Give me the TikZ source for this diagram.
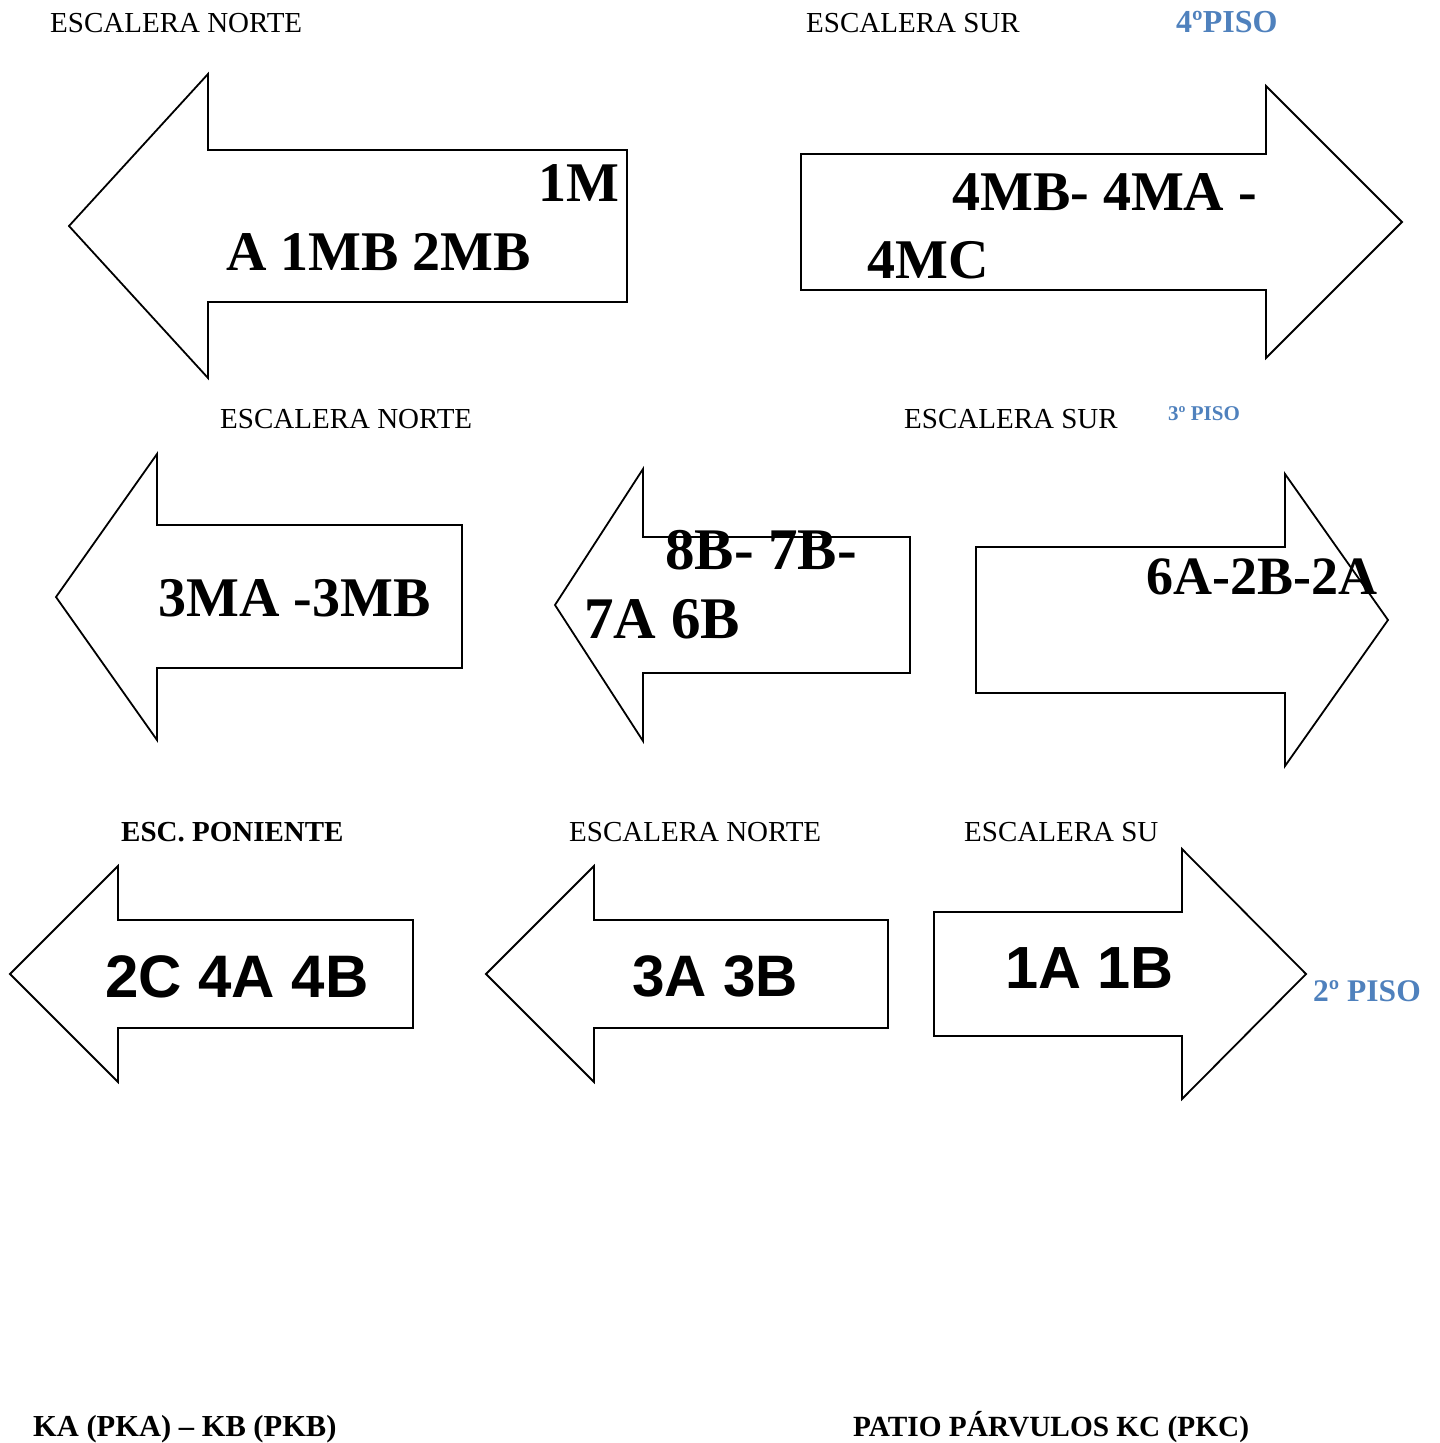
\documentclass[tikz,border=0pt]{standalone}
\usepackage{fontspec}
\setmainfont{Liberation Serif}
\newfontfamily\arialfam{Liberation Sans}
\definecolor{pisoblue}{HTML}{4F81BD}
\tikzset{
  arrowshape/.style={draw=black, line width=1.8pt, fill=white, line join=miter},
  lbl/.style={inner sep=0pt, anchor=base west, font=\fontsize{29}{29}\selectfont},
  lblb/.style={lbl, font=\fontsize{29}{29}\selectfont\bfseries},
  piso/.style={inner sep=0pt, anchor=base west, text=pisoblue},
  big/.style={inner sep=0pt, anchor=base west, font=\fontsize{56}{56}\selectfont\bfseries},
  bigsans/.style={inner sep=0pt, anchor=base west, font=\arialfam\fontsize{60}{60}\selectfont\bfseries},
}
\begin{document}
\begin{tikzpicture}[x=1pt,y=-1pt]
\useasboundingbox[fill=white] (0,0) rectangle (1440,1443);

% ---- arrows ----
% row 1
\draw[arrowshape] (69,226) -- (208,74) -- (208,150) -- (627,150) -- (627,302) -- (208,302) -- (208,378) -- cycle;
\draw[arrowshape] (1402,222) -- (1266,86) -- (1266,154) -- (801,154) -- (801,290) -- (1266,290) -- (1266,358) -- cycle;
% row 2
\draw[arrowshape] (56,597) -- (157,454) -- (157,525) -- (462,525) -- (462,668) -- (157,668) -- (157,740) -- cycle;
\draw[arrowshape] (555,605) -- (643,469) -- (643,537) -- (910,537) -- (910,673) -- (643,673) -- (643,741) -- cycle;
\draw[arrowshape] (1388,620) -- (1285,474) -- (1285,547) -- (976,547) -- (976,693) -- (1285,693) -- (1285,766) -- cycle;
% row 3
\draw[arrowshape] (10,974) -- (118,866) -- (118,920) -- (413,920) -- (413,1028) -- (118,1028) -- (118,1082) -- cycle;
\draw[arrowshape] (486,974) -- (594,866) -- (594,920) -- (888,920) -- (888,1028) -- (594,1028) -- (594,1082) -- cycle;
\draw[arrowshape] (1306,974) -- (1182,849) -- (1182,912) -- (934,912) -- (934,1036) -- (1182,1036) -- (1182,1099) -- cycle;

% ---- labels ----
\node[lbl] (l1) at (50,32) {ESCALERA NORTE};
\node[lbl] (l2) at (806,32) {ESCALERA SUR};
\node[piso, font=\fontsize{32}{32}\selectfont\bfseries] (p4) at (1176,32) {4ºPISO};

\node[lbl] (l3) at (220,428) {ESCALERA NORTE};
\node[lbl] (l4) at (904,428) {ESCALERA SUR};
\node[piso, font=\fontsize{21}{21}\selectfont\bfseries] (p3) at (1168,420) {3º PISO};

\node[lblb] (l5) at (121,841) {ESC. PONIENTE};
\node[lbl] (l6) at (569,841) {ESCALERA NORTE};
\node[lbl] (l7) at (964,841) {ESCALERA SU};
\node[piso, font=\fontsize{31.5}{31.5}\selectfont\bfseries] (p2) at (1313,1001) {2º PISO};

\node[lblb, font=\fontsize{30.5}{30.5}\selectfont\bfseries] (b1) at (33,1436) {KA (PKA) – KB (PKB)};
\node[lblb, font=\fontsize{29.3}{29.3}\selectfont\bfseries] (b2) at (853,1436) {PATIO PÁRVULOS KC (PKC)};

% ---- arrow texts ----
\node[big] (t1a) at (538,201) {1M};
\node[big] (t1b) at (226,270) {A 1MB 2MB};
\node[big] (t2a) at (952,210) {4MB- 4MA -};
\node[big] (t2b) at (867,278) {4MC};
\node[big] (t3) at (158,616) {3MA -3MB};
\node[big, font=\fontsize{59}{59}\selectfont\bfseries] (t4a) at (665,569) {8B- 7B-};
\node[big, font=\fontsize{59}{59}\selectfont\bfseries] (t4b) at (584,638) {7A 6B};
\node[big, font=\fontsize{54}{54}\selectfont\bfseries] (t5) at (1146,594) {6A-2B-2A};
\node[bigsans] (t6) at (105,997) {2C 4A 4B};
\node[bigsans, font=\arialfam\fontsize{58.5}{58.5}\selectfont\bfseries] (t7) at (632,996) {3A 3B};
\node[bigsans, font=\arialfam\fontsize{59.5}{59.5}\selectfont\bfseries] (t8) at (1005,988) {1A 1B};
\end{tikzpicture}
\end{document}
